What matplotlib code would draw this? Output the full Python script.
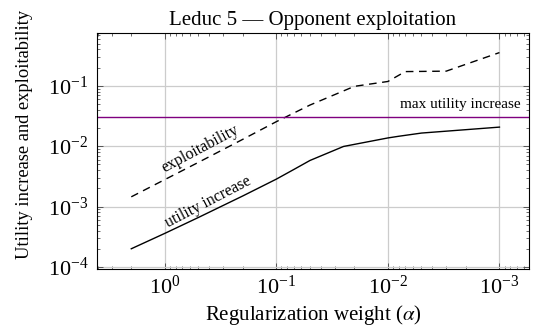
import numpy as np
import matplotlib
matplotlib.use("Agg")
import matplotlib.pyplot as plt
from matplotlib.ticker import LogLocator, NullFormatter

plt.rcParams["font.family"] = ["Liberation Serif", "DejaVu Serif"]
plt.rcParams["mathtext.fontset"] = "stix"

# data
alpha_util = [2, 1, 0.5, 0.2, 0.1, 0.07, 0.05, 0.025, 0.01, 0.008, 0.005, 0.001]
utility = [2.0e-4, 3.6e-4, 6.6e-4, 1.5e-3, 2.85e-3, 4.1e-3, 5.8e-3, 9.9e-3, 1.37e-2, 1.46e-2, 1.65e-2, 2.07e-2]

alpha_expl = [2, 1, 0.5, 0.2, 0.1, 0.05, 0.02, 0.01, 0.007, 0.003, 0.001]
exploit = [1.45e-3, 2.8e-3, 5.4e-3, 1.3e-2, 2.55e-2, 4.8e-2, 9.8e-2, 0.118, 0.172, 0.175, 0.355]

max_util = 0.030

fig = plt.figure(figsize=(5.36, 3.29), dpi=100)
ax = fig.add_axes([0.1805, 0.182, 0.807, 0.717])

ax.plot(alpha_util, utility, color="black", lw=1.0)
ax.plot(alpha_expl, exploit, color="black", lw=1.0, dashes=(5.5, 4))
ax.axhline(max_util, color="#7f007f", lw=1.0)

ax.set_xscale("log")
ax.set_yscale("log")
ax.set_xlim(4.08, 5.4e-4)
ax.set_ylim(9.2e-5, 0.743)

ax.xaxis.set_major_locator(LogLocator(base=10, numticks=10))
ax.xaxis.set_minor_locator(LogLocator(base=10, subs=np.arange(2, 10), numticks=20))
ax.yaxis.set_major_locator(LogLocator(base=10, numticks=10))
ax.yaxis.set_minor_locator(LogLocator(base=10, subs=np.arange(2, 10), numticks=20))
ax.xaxis.set_minor_formatter(NullFormatter())
ax.yaxis.set_minor_formatter(NullFormatter())

ax.grid(True, which="major", color="#cccccc", lw=0.9)
ax.set_axisbelow(True)
ax.tick_params(which="both", direction="in", top=True, right=True, color="#555555", labelsize=16)
ax.tick_params(which="major", length=4, width=0.7)
ax.tick_params(which="minor", length=2.5, width=0.6)
ax.tick_params(axis="y", pad=6)
ax.tick_params(axis="x", pad=5)
for s in ax.spines.values():
    s.set_linewidth(0.8)

ax.set_title("Leduc 5 \u2014 Opponent exploitation", fontsize=15, pad=6)
ax.set_xlabel(r"Regularization weight ($\alpha$)", fontsize=15, labelpad=3)
ax.set_ylabel("Utility increase and exploitability", fontsize=13.3)
ax.yaxis.set_label_coords(-0.148, 0.57)

ax.text(0.98, max_util * 1.28, "max utility increase", transform=ax.get_yaxis_transform(),
        ha="right", va="bottom", fontsize=11)
ax.annotate("exploitability", xy=(200, 329 - 149), xycoords="figure pixels",
            rotation=28, ha="center", va="center", rotation_mode="anchor", fontsize=11.5)
ax.annotate("utility increase", xy=(208, 329 - 202), xycoords="figure pixels",
            rotation=27.5, ha="center", va="center", rotation_mode="anchor", fontsize=11.5)

fig.savefig("out.png", dpi=100)
